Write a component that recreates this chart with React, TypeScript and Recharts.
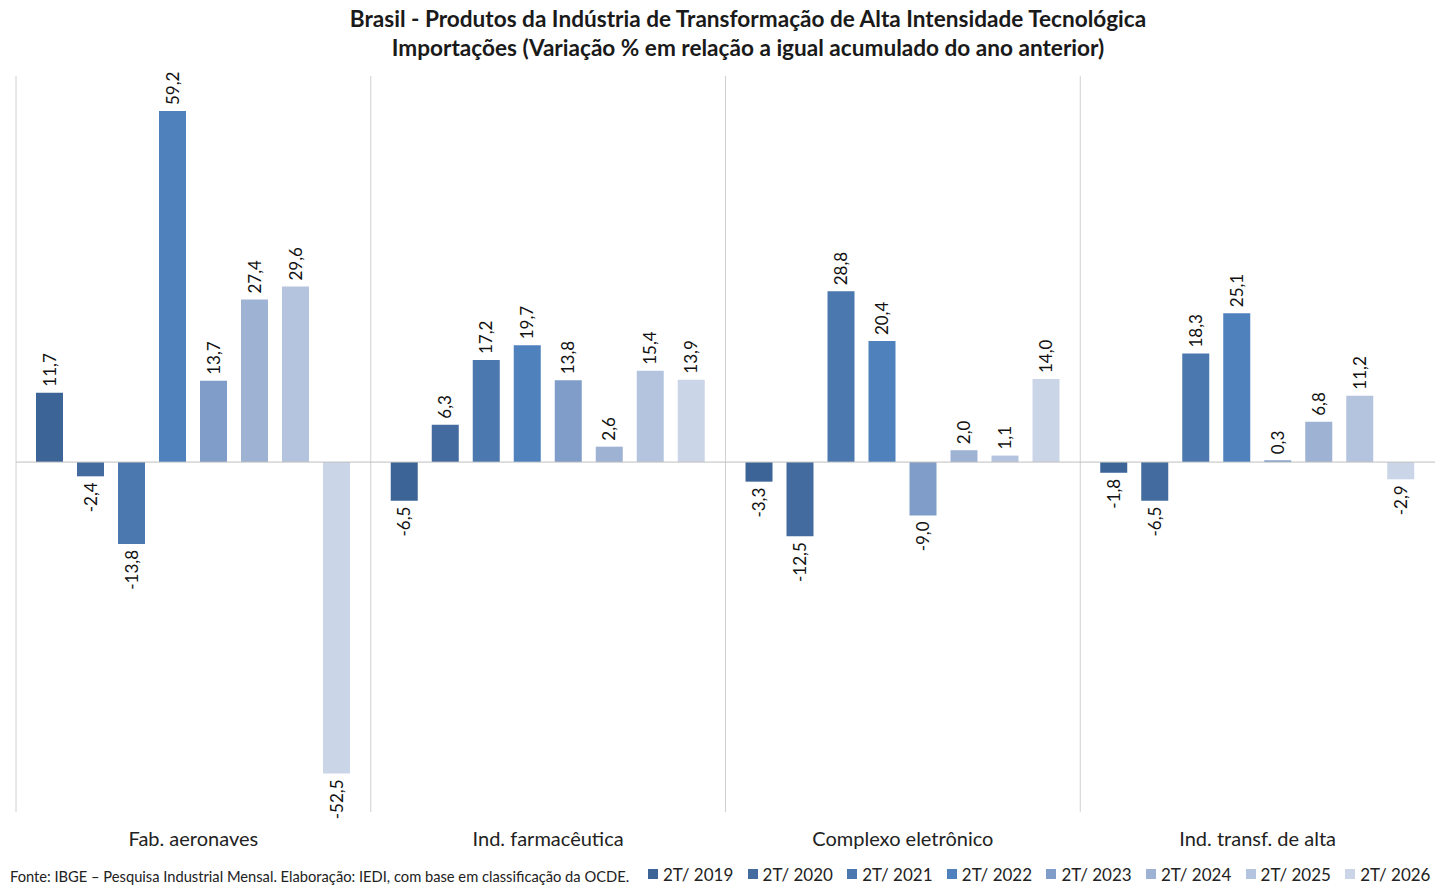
import { Bar, BarChart, CartesianGrid, Legend, ReferenceLine, XAxis, YAxis } from "recharts";

const categories = ["Fab. aeronaves", "Ind. farmacêutica", "Complexo eletrônico", "Ind. transf. de alta"];

const seriesNames = ["2T/ 2019", "2T/ 2020", "2T/ 2021", "2T/ 2022", "2T/ 2023", "2T/ 2024", "2T/ 2025", "2T/ 2026"];

const seriesColors = ["#3c6496", "#436b9f", "#4a78af", "#4f81bd", "#7f9dc8", "#9eb2d4", "#b5c4de", "#cbd5e8"];

// one array per category, one value per period
const aeronaves = [11.7, -2.4, -13.8, 59.2, 13.7, 27.4, 29.6, -52.5];
const farmaceutica = [-6.5, 6.3, 17.2, 19.7, 13.8, 2.6, 15.4, 13.9];
const eletronico = [-3.3, -12.5, 28.8, 20.4, -9.0, 2.0, 1.1, 14.0];
const transfAlta = [-1.8, -6.5, 18.3, 25.1, 0.3, 6.8, 11.2, -2.9];

const valuesByCategory = [aeronaves, farmaceutica, eletronico, transfAlta];

const chartData = categories.map((name, i) => {
  const row: Record<string, string | number> = { name };
  seriesNames.forEach((s, j) => {
    row["s" + j] = valuesByCategory[i][j];
  });
  return row;
});

const font = "Lato, 'Open Sans', sans-serif";

function ValueLabel(props: any) {
  const { x, y, width, height, value } = props;
  const cx = x + width / 2;
  const top = Math.min(y, y + height);
  const bottom = Math.max(y, y + height);
  const positive = value >= 0;
  const ay = positive ? top - 6 : bottom + 6;
  return (
    <text
      x={cx}
      y={ay}
      dy="0.36em"
      transform={`rotate(-90, ${cx}, ${ay})`}
      textAnchor={positive ? "start" : "end"}
      fontSize={17}
      fontFamily={font}
      fill="#111"
    >
      {value.toFixed(1).replace(".", ",")}
    </text>
  );
}

function LegendContent() {
  return (
    <div style={{ display: "flex", height: 20, alignItems: "center", fontFamily: font, fontSize: 17, color: "#222" }}>
      {seriesNames.map((s, i) => (
        <div key={s} style={{ display: "flex", alignItems: "center", width: 99.6 }}>
          <span style={{ display: "inline-block", width: 10, height: 10, background: seriesColors[i], marginRight: 5 }} />
          <span>{s}</span>
        </div>
      ))}
    </div>
  );
}

export default function App() {
  return (
    <div style={{ position: "absolute", left: 0, top: 0, width: 1439, height: 892, background: "#fff", fontFamily: font }}>
      <div
        style={{
          position: "absolute",
          left: 0,
          top: 4,
          width: 1496,
          textAlign: "center",
          fontWeight: 700,
          fontSize: 22.6,
          lineHeight: "29px",
          color: "#1a1a1a",
        }}
      >
        <div>Brasil - Produtos da Indústria de Transformação de Alta Intensidade Tecnológica</div>
        <div>Importações (Variação % em relação a igual acumulado do ano anterior)</div>
      </div>
      <BarChart
        width={1439}
        height={892}
        data={chartData}
        margin={{ top: 76, right: 4, bottom: 20, left: 16 }}
        barSize={27}
        barGap={14}
      >
        <CartesianGrid
          horizontal={false}
          stroke="#d0d0d0"
          verticalCoordinatesGenerator={({ offset }: any) =>
            categories.map((_, i) => offset.left + (i * offset.width) / categories.length)
          }
        />
        <XAxis
          dataKey="name"
          axisLine={false}
          tickLine={false}
          height={40}
          tick={{ fontSize: 20, fontFamily: font, fill: "#222" }}
          dy={12}
        />
        <YAxis width={0} domain={[-59, 65.1]} tick={false} tickLine={false} axisLine={false} />
        <ReferenceLine y={0} stroke="#bfbfbf" />
        <Legend verticalAlign="bottom" content={<LegendContent />} wrapperStyle={{ left: 648, bottom: 8, width: 800 }} />
        {seriesNames.map((s, i) => (
          <Bar key={s} dataKey={"s" + i} name={s} fill={seriesColors[i]} isAnimationActive={false} label={<ValueLabel />} />
        ))}
      </BarChart>
      <div style={{ position: "absolute", left: 10, top: 867, fontSize: 14.7, color: "#222", fontFamily: font }}>
        Fonte: IBGE – Pesquisa Industrial Mensal. Elaboração: IEDI, com base em classificação da OCDE.
      </div>
    </div>
  );
}
